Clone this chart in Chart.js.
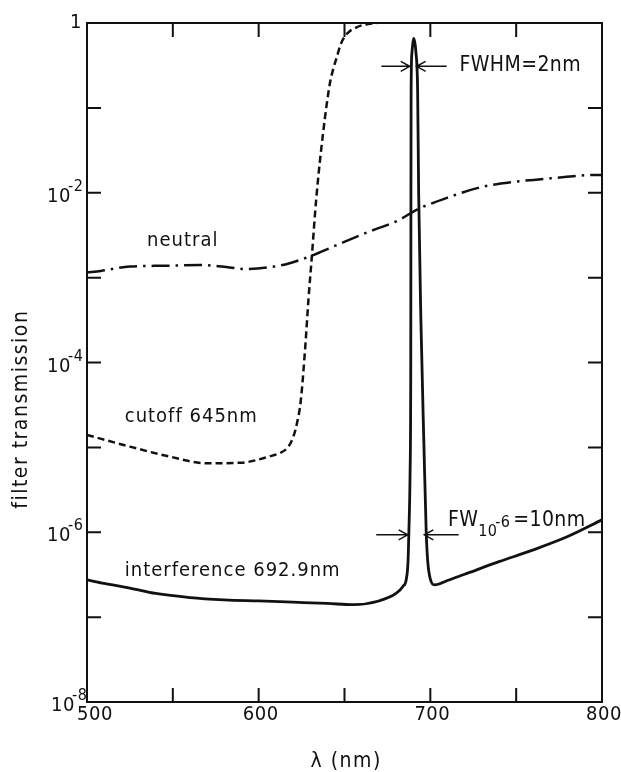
<!DOCTYPE html>
<html>
<head>
<meta charset="utf-8">
<script src="https://cdn.jsdelivr.net/npm/chart.js@4.4.1/dist/chart.umd.min.js"></script>
<style>
  html, body { margin: 0; padding: 0; background: #fff; }
  #wrap { width: 621px; height: 772px; position: relative; }
</style>
</head>
<body>
<div id="wrap"><canvas id="c"></canvas></div>
<script>
// Interference filter (692.9 nm), solid line
const interferenceWavelength = [500, 510, 525, 540, 560, 580, 600, 620, 640, 655, 670, 680, 684, 686, 687, 687.5, 688.2, 688.6, 688.7, 688.8, 689.3, 690.4, 691.6, 692.6, 693.2, 694.5, 696.3, 697.6, 698.5, 700, 702.5, 710, 720, 740, 760, 780, 800];
const interferenceValues = [2.75e-7, 2.5e-7, 2.2e-7, 1.9e-7, 1.7e-7, 1.6e-7, 1.55e-7, 1.5e-7, 1.45e-7, 1.4e-7, 1.55e-7, 1.9e-7, 2.3e-7, 2.8e-7, 4.5e-7, 1e-6, 5e-6, 1e-4, 1e-2, 0.16, 0.45, 0.66, 0.45, 0.16, 1e-2, 3.2e-4, 1e-5, 1e-6, 4.5e-7, 2.8e-7, 2.4e-7, 2.7e-7, 3.2e-7, 4.5e-7, 6.2e-7, 8.9e-7, 1.4e-6];

// Cutoff filter (645 nm), dashed line
const cutoffWavelength = [500, 525, 548, 570, 590, 606, 613, 617, 620, 622.5, 624.5, 627, 629, 631, 633.5, 637.5, 641.5, 643.5, 645.6, 647.5, 650, 653, 657, 662, 669];
const cutoffValues = [1.4e-5, 1.02e-5, 7.8e-6, 6.5e-6, 6.6e-6, 7.8e-6, 8.7e-6, 1.0e-5, 1.3e-5, 2.0e-5, 3.5e-5, 1.4e-4, 5.5e-4, 1.8e-3, 8.3e-3, 0.05, 0.195, 0.29, 0.4, 0.54, 0.69, 0.8, 0.89, 0.96, 1.0];

// Neutral density filter, dash-dot line
const neutralWavelength = [500, 508, 525, 545, 566, 583, 592, 609, 618, 631, 643, 663, 682, 692, 711, 730, 750, 770, 797, 800];
const neutralValues = [1.15e-3, 1.2e-3, 1.35e-3, 1.38e-3, 1.41e-3, 1.32e-3, 1.26e-3, 1.35e-3, 1.48e-3, 1.82e-3, 2.3e-3, 3.4e-3, 4.8e-3, 6.3e-3, 8.9e-3, 1.17e-2, 1.35e-2, 1.48e-2, 1.62e-2, 1.62e-2];

// Axis ticks
const xTickMarks = [550, 600, 650, 700, 750];
const xTickLabels = [500, 600, 700, 800];
const yTickMarks = [1e-1, 1e-2, 1e-3, 1e-4, 1e-5, 1e-6, 1e-7];
const yTickExponents = [0, -2, -4, -6, -8];

const FONT = '"DejaVu Sans Condensed", "DejaVu Sans", sans-serif';
const INK = '#111';

function pts(xs, ys) { return xs.map((x, i) => ({ x: x, y: ys[i] })); }

const framePlugin = {
  id: 'frame',
  afterDraw(chart) {
    const ctx = chart.ctx;
    const a = chart.chartArea;
    const xs = chart.scales.x, ys = chart.scales.y;
    ctx.save();
    ctx.strokeStyle = INK;
    ctx.fillStyle = INK;
    ctx.lineWidth = 2;
    ctx.strokeRect(a.left, a.top, a.right - a.left, a.bottom - a.top);

    // inward ticks
    const tl = 14;
    ctx.beginPath();
    xTickMarks.forEach(v => {
      const px = xs.getPixelForValue(v);
      ctx.moveTo(px, a.bottom); ctx.lineTo(px, a.bottom - tl);
      ctx.moveTo(px, a.top); ctx.lineTo(px, a.top + tl);
    });
    yTickMarks.forEach(v => {
      const py = ys.getPixelForValue(v);
      ctx.moveTo(a.left, py); ctx.lineTo(a.left + tl, py);
      ctx.moveTo(a.right, py); ctx.lineTo(a.right - tl, py);
    });
    ctx.stroke();

    // x tick labels
    ctx.font = '20px ' + FONT;
    ctx.letterSpacing = '0.5px';
    ctx.textBaseline = 'middle';
    ctx.textAlign = 'center';
    xTickLabels.forEach((v, i) => {
      const px = xs.getPixelForValue(v) + (i === 0 ? 8 : 2);
      ctx.fillText(String(v), px, a.bottom + 13);
    });

    // y tick labels (powers of ten)
    yTickExponents.forEach(e => {
      const py = ys.getPixelForValue(Math.pow(10, e));
      if (e === 0) {
        ctx.font = '20px ' + FONT;
        ctx.textAlign = 'right';
        ctx.fillText('1', a.left - 5, py);
        return;
      }
      const base = e === -8 ? a.left - 12 : a.left - 16;
      ctx.font = '20px ' + FONT;
      ctx.textAlign = 'right';
      ctx.fillText('10', base, py + 4);
      ctx.font = '16px ' + FONT;
      ctx.textAlign = 'left';
      ctx.fillText(String(e), base - 3, py - 6);
    });

    // axis titles
    ctx.font = '21px ' + FONT;
    ctx.letterSpacing = '1.5px';
    ctx.textAlign = 'center';
    ctx.fillText('\u03bb (nm)', xs.getPixelForValue(651), a.bottom + 60);
    ctx.save();
    ctx.translate(a.left - 65, ys.getPixelForValue(Math.pow(10, -4.55)));
    ctx.rotate(-Math.PI / 2);
    ctx.fillText('filter transmission', 0, 0);
    ctx.restore();

    // curve labels
    ctx.font = '20px ' + FONT;
    ctx.letterSpacing = '1px';
    ctx.textAlign = 'left';
    const lab = (t, x, lg) => ctx.fillText(t, xs.getPixelForValue(x), ys.getPixelForValue(Math.pow(10, lg)));
    lab('neutral', 535, -2.57);
    lab('cutoff 645nm', 522, -4.64);
    lab('interference 692.9nm', 522, -6.46);
    ctx.font = '21px ' + FONT;
    ctx.letterSpacing = '0.4px';
    lab('FWHM=2nm', 717, -0.50);

    // FW at 10^-6 label with sub/superscript
    let fx = xs.getPixelForValue(710.3);
    const fy = ys.getPixelForValue(Math.pow(10, -5.86));
    ctx.fillText('FW', fx, fy);
    fx += ctx.measureText('FW').width;
    ctx.font = '16px ' + FONT;
    ctx.letterSpacing = '0.3px';
    ctx.fillText('10', fx, fy + 11);
    fx += ctx.measureText('10').width - 2;
    ctx.fillText('-6', fx, fy + 2);
    fx += ctx.measureText('-6').width + 3;
    ctx.font = '21px ' + FONT;
    ctx.letterSpacing = '0.4px';
    ctx.fillText('=10nm', fx, fy);
    ctx.letterSpacing = '0px';

    // dimension arrows
    const arrow = (x1, x2, lg) => {
      const y = ys.getPixelForValue(Math.pow(10, lg));
      const p1 = xs.getPixelForValue(x1), p2 = xs.getPixelForValue(x2);
      const d = Math.sign(p2 - p1);
      ctx.lineWidth = 1.5;
      ctx.beginPath();
      ctx.moveTo(p1, y); ctx.lineTo(p2, y);
      ctx.moveTo(p2 - d * 9, y - 5); ctx.lineTo(p2, y); ctx.lineTo(p2 - d * 9, y + 5);
      ctx.stroke();
    };
    arrow(671.5, 688.0, -0.51);
    arrow(709.5, 692.0, -0.51);
    arrow(668.5, 686.8, -6.03);
    arrow(716.5, 696.5, -6.03);
    ctx.restore();
  }
};

new Chart(document.getElementById('c'), {
  type: 'line',
  data: {
    datasets: [
      {
        label: 'interference 692.9nm',
        data: pts(interferenceWavelength, interferenceValues),
        borderColor: INK, borderWidth: 2.8, pointRadius: 0,
        cubicInterpolationMode: 'monotone', fill: false
      },
      {
        label: 'cutoff 645nm',
        data: pts(cutoffWavelength, cutoffValues),
        borderColor: INK, borderWidth: 2.5, borderDash: [7, 4], pointRadius: 0,
        cubicInterpolationMode: 'monotone', fill: false
      },
      {
        label: 'neutral',
        data: pts(neutralWavelength, neutralValues),
        borderColor: INK, borderWidth: 2.5, borderDash: [18, 6, 2.5, 6], pointRadius: 0,
        cubicInterpolationMode: 'monotone', fill: false
      }
    ]
  },
  options: {
    responsive: true,
    maintainAspectRatio: false,
    animation: false,
    layout: { padding: { left: 87, right: 19, top: 23, bottom: 70 } },
    plugins: { legend: { display: false }, tooltip: { enabled: false } },
    scales: {
      x: { type: 'linear', min: 500, max: 800, display: false },
      y: { type: 'logarithmic', min: 1e-8, max: 1, display: false }
    }
  },
  plugins: [framePlugin]
});
</script>
</body>
</html>
